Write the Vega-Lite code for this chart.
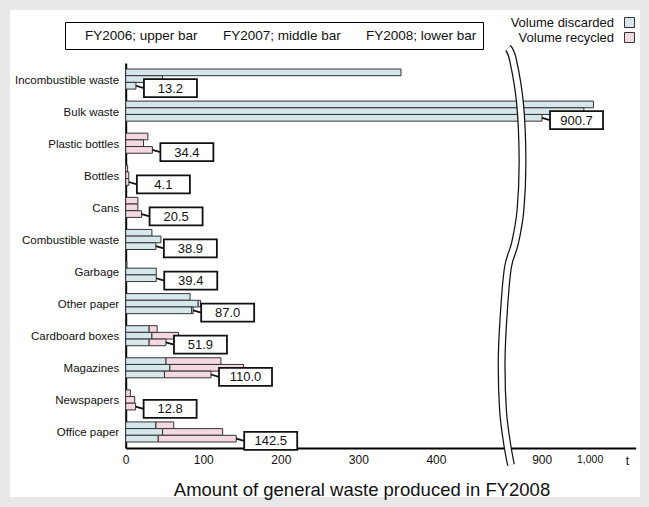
{
  "$schema": "https://vega.github.io/schema/vega-lite/v6.json",
  "width": 630,
  "height": 487,
  "autosize": {"type": "none"},
  "padding": {"left": 10, "top": 10, "right": 9, "bottom": 10},
  "background": "#e8e8e8",
  "config": {"view": {"fill": "white", "stroke": null}, "font": "Liberation Sans"},
  "title": {"text": "Amount of general waste produced in FY2008", "orient": "bottom", "anchor": "middle", "fontSize": 18.5, "fontWeight": "normal", "font": "Liberation Sans", "color": "#111", "offset": -16, "dx": 37},
  "data": {"values": [
    {"cat": "Incombustible waste", "year": "FY2006", "Volume discarded": 355, "Volume recycled": 0},
    {"cat": "Incombustible waste", "year": "FY2007", "Volume discarded": 47.5, "Volume recycled": 0},
    {"cat": "Incombustible waste", "year": "FY2008", "Volume discarded": 13.2, "Volume recycled": 0},
    {"cat": "Bulk waste", "year": "FY2006", "Volume discarded": 1008, "Volume recycled": 0},
    {"cat": "Bulk waste", "year": "FY2007", "Volume discarded": 988, "Volume recycled": 0},
    {"cat": "Bulk waste", "year": "FY2008", "Volume discarded": 900.7, "Volume recycled": 0},
    {"cat": "Plastic bottles", "year": "FY2006", "Volume discarded": 0, "Volume recycled": 28.6},
    {"cat": "Plastic bottles", "year": "FY2007", "Volume discarded": 0, "Volume recycled": 23},
    {"cat": "Plastic bottles", "year": "FY2008", "Volume discarded": 0, "Volume recycled": 34.4},
    {"cat": "Bottles", "year": "FY2006", "Volume discarded": 0, "Volume recycled": 2.5},
    {"cat": "Bottles", "year": "FY2007", "Volume discarded": 0, "Volume recycled": 4},
    {"cat": "Bottles", "year": "FY2008", "Volume discarded": 0, "Volume recycled": 4.1},
    {"cat": "Cans", "year": "FY2006", "Volume discarded": 0, "Volume recycled": 15.7},
    {"cat": "Cans", "year": "FY2007", "Volume discarded": 0, "Volume recycled": 15.7},
    {"cat": "Cans", "year": "FY2008", "Volume discarded": 0, "Volume recycled": 20.5},
    {"cat": "Combustible waste", "year": "FY2006", "Volume discarded": 33.8, "Volume recycled": 0},
    {"cat": "Combustible waste", "year": "FY2007", "Volume discarded": 45.4, "Volume recycled": 0},
    {"cat": "Combustible waste", "year": "FY2008", "Volume discarded": 38.9, "Volume recycled": 0},
    {"cat": "Garbage", "year": "FY2006", "Volume discarded": 1.5, "Volume recycled": 0},
    {"cat": "Garbage", "year": "FY2007", "Volume discarded": 39.4, "Volume recycled": 0},
    {"cat": "Garbage", "year": "FY2008", "Volume discarded": 39.4, "Volume recycled": 0},
    {"cat": "Other paper", "year": "FY2006", "Volume discarded": 83, "Volume recycled": 0},
    {"cat": "Other paper", "year": "FY2007", "Volume discarded": 93.5, "Volume recycled": 3},
    {"cat": "Other paper", "year": "FY2008", "Volume discarded": 85, "Volume recycled": 2},
    {"cat": "Cardboard boxes", "year": "FY2006", "Volume discarded": 30.3, "Volume recycled": 10.3},
    {"cat": "Cardboard boxes", "year": "FY2007", "Volume discarded": 33.8, "Volume recycled": 34.2},
    {"cat": "Cardboard boxes", "year": "FY2008", "Volume discarded": 30.3, "Volume recycled": 21.6},
    {"cat": "Magazines", "year": "FY2006", "Volume discarded": 52, "Volume recycled": 70.8},
    {"cat": "Magazines", "year": "FY2007", "Volume discarded": 57, "Volume recycled": 95},
    {"cat": "Magazines", "year": "FY2008", "Volume discarded": 50, "Volume recycled": 60},
    {"cat": "Newspapers", "year": "FY2006", "Volume discarded": 0, "Volume recycled": 6},
    {"cat": "Newspapers", "year": "FY2007", "Volume discarded": 0, "Volume recycled": 11.6},
    {"cat": "Newspapers", "year": "FY2008", "Volume discarded": 0, "Volume recycled": 12.8},
    {"cat": "Office paper", "year": "FY2006", "Volume discarded": 39, "Volume recycled": 23},
    {"cat": "Office paper", "year": "FY2007", "Volume discarded": 47.5, "Volume recycled": 77.5},
    {"cat": "Office paper", "year": "FY2008", "Volume discarded": 42, "Volume recycled": 100.5}
  ]},
  "resolve": {"scale": {"y": "independent"}, "axis": {"y": "independent"}},
  "layer": [
    {
      "transform": [
        {"fold": ["Volume discarded", "Volume recycled"], "as": ["type", "value"]},
        {"filter": "datum.value > 0"}
      ],
      "encoding": {
        "y": {"field": "cat", "type": "nominal",
          "sort": ["Incombustible waste", "Bulk waste", "Plastic bottles", "Bottles", "Cans", "Combustible waste", "Garbage", "Other paper", "Cardboard boxes", "Magazines", "Newspapers", "Office paper"],
          "scale": {"range": [53, 438], "paddingInner": 0.375, "paddingOuter": 0.1875},
          "axis": {"ticks": false, "grid": false, "domainColor": "black", "domainWidth": 2, "offset": -115.7, "labelPadding": 7, "labelFontSize": 11.5, "labelOffset": 1.5, "labelColor": "#111", "title": null, "labelLimit": 300}}
      },
      "layer": [
        {
          "mark": {"type": "bar", "stroke": "#333", "strokeWidth": 1},
          "encoding": {
            "x": {"field": "value", "type": "quantitative", "stack": "zero",
              "scale": {"domain": [0, 490, 850, 1096], "range": [115.7, 495.7, 507.7, 625.7], "nice": false, "zero": false},
              "axis": {"values": [0, 100, 200, 300, 400, 900, 1000], "labelExpr": "datum.value == 1000 ? '1,000' : datum.label",
                "labelFontSize": {"condition": {"test": "datum.value == 1000", "value": 10.5}, "value": 12},
                "ticks": false, "grid": false, "domainColor": "black", "domainWidth": 2, "offset": -49, "labelPadding": 6, "labelColor": "#111",
                "labelOverlap": false, "labelFlush": false, "title": "t", "titleX": 617, "titleY": 12, "titleAlign": "center", "titleBaseline": "middle",
                "titleFontWeight": "normal", "titleFontSize": 12, "titleColor": "#111", "titleAngle": 0}},
            "yOffset": {"field": "year", "type": "nominal", "scale": {"paddingInner": 0, "paddingOuter": 0}},
            "color": {"field": "type", "type": "nominal",
              "scale": {"domain": ["Volume discarded", "Volume recycled"], "range": ["#d5e7ea", "#f4d9e3"]},
              "legend": {"orient": "none", "legendX": 613, "legendY": 6, "title": null, "symbolType": "square", "symbolSize": 100,
                "symbolStrokeColor": "#333", "symbolStrokeWidth": 1, "labelAlign": "right", "labelOffset": -22, "labelFontSize": 13,
                "rowPadding": 0, "padding": 0, "labelColor": "#111"}},
            "opacity": {"field": "year", "type": "ordinal", "scale": {"range": [1, 1]},
              "legend": {"orient": "none", "legendX": 55, "legendY": 12, "direction": "horizontal", "title": null, "strokeColor": "black",
                "padding": 6.5, "symbolSize": 0, "symbolStrokeWidth": 0, "symbolOpacity": 0, "labelOffset": 0, "columnPadding": 11,
                "labelFontSize": 13.5, "labelColor": "#111",
                "labelExpr": "datum.label == 'FY2006' ? 'FY2006; upper bar' : datum.label == 'FY2007' ? 'FY2007; middle bar' : 'FY2008; lower bar\u00a0'"}}
          }
        },
        {
          "transform": [
            {"filter": "datum.year == 'FY2008'"},
            {"aggregate": [{"op": "sum", "field": "value", "as": "total"}], "groupby": ["cat"]}
          ],
          "mark": {"type": "point", "shape": "M0,0.253L0.302,0.34M0.302,0H2.302V0.679H0.302Z", "size": 2809, "filled": true, "fill": "white", "stroke": "#111", "strokeWidth": 1.8, "opacity": 1},
          "encoding": {
            "x": {"field": "total", "type": "quantitative",
              "scale": {"domain": [0, 490, 850, 1096], "range": [115.7, 495.7, 507.7, 625.7], "nice": false, "zero": false}}
          }
        },
        {
          "transform": [
            {"filter": "datum.year == 'FY2008'"},
            {"aggregate": [{"op": "sum", "field": "value", "as": "total"}], "groupby": ["cat"]}
          ],
          "mark": {"type": "text", "dx": 34.5, "dy": 9.5, "align": "center", "baseline": "middle", "fontSize": 13, "color": "#111"},
          "encoding": {
            "x": {"field": "total", "type": "quantitative",
              "scale": {"domain": [0, 490, 850, 1096], "range": [115.7, 495.7, 507.7, 625.7], "nice": false, "zero": false}},
            "text": {"field": "total", "type": "quantitative", "format": ".1f"}
          }
        }
      ]
    },
    {
      "data": {"values": [
        {"seq": 1, "wx": 559, "wy": 1.039},
        {"seq": 2, "wx": 709, "wy": 1.008},
        {"seq": 3, "wx": 854.8, "wy": 0.896},
        {"seq": 4, "wx": 860, "wy": 0.748},
        {"seq": 5, "wx": 855.8, "wy": 0.618},
        {"seq": 6, "wx": 769, "wy": 0.532},
        {"seq": 7, "wx": 559, "wy": 0.47},
        {"seq": 8, "wx": 487.8, "wy": 0.358},
        {"seq": 9, "wx": 484.8, "wy": 0.229},
        {"seq": 10, "wx": 486.5, "wy": 0.099},
        {"seq": 11, "wx": 529, "wy": 0.013},
        {"seq": 12, "wx": 649, "wy": -0.044}
      ]},
      "encoding": {
        "x": {"field": "wx", "type": "quantitative",
          "scale": {"domain": [0, 490, 850, 1096], "range": [115.7, 495.7, 507.7, 625.7], "nice": false, "zero": false}},
        "y": {"field": "wy", "type": "quantitative", "scale": {"domain": [0, 1], "range": [438, 53], "nice": false, "zero": false}, "axis": null},
        "order": {"field": "seq", "type": "quantitative"}
      },
      "layer": [
        {"mark": {"type": "line", "color": "#111", "strokeWidth": 8, "interpolate": "cardinal"}},
        {"mark": {"type": "line", "color": "white", "strokeWidth": 5.5, "interpolate": "cardinal"}}
      ]
    }
  ]
}
